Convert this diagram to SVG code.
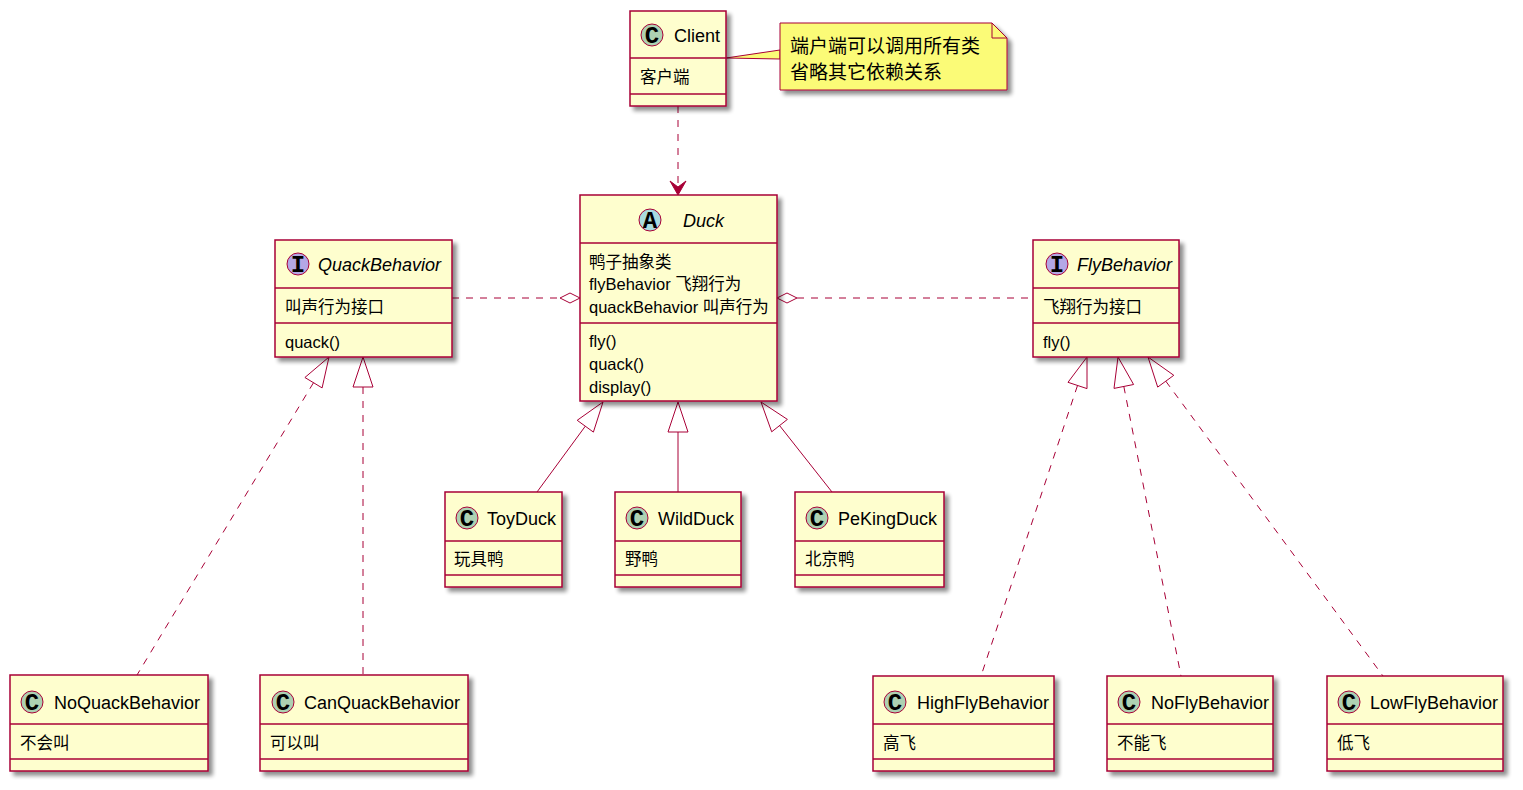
<svg xmlns="http://www.w3.org/2000/svg" width="1523" height="790" viewBox="0 0 1523 790">
<defs>
<filter id="sh" x="-10%" y="-10%" width="130%" height="130%">
<feGaussianBlur in="SourceAlpha" stdDeviation="2"/>
<feOffset dx="4" dy="4" result="b"/>
<feComponentTransfer><feFuncA type="linear" slope="0.45"/></feComponentTransfer>
<feMerge><feMergeNode/><feMergeNode in="SourceGraphic"/></feMerge>
</filter>
<style>
.box{fill:#FEFECE;stroke:#A80036;stroke-width:1.5;}
.sep{stroke:#A80036;stroke-width:1.5;}
.cc{fill:#ADD1B2;stroke:#A80036;stroke-width:1;}
.ca{fill:#A9DCDF;stroke:#A80036;stroke-width:1;}
.ci{fill:#B4A7E5;stroke:#A80036;stroke-width:1;}
.lt{font-family:"Liberation Mono",monospace;font-weight:bold;font-size:24px;fill:#000;text-anchor:middle;}
.nm{font-family:"Liberation Sans","Noto Sans CJK SC",sans-serif;font-size:18px;fill:#000;}
.it{font-style:italic;}
.at{font-family:"Liberation Sans","Noto Sans CJK SC",sans-serif;font-size:16.5px;fill:#000;}
.nt{font-family:"Liberation Sans","Noto Sans CJK SC",sans-serif;font-size:19px;fill:#000;}
.ln{stroke:#A80036;stroke-width:1;fill:none;}
.dl{stroke:#A80036;stroke-width:1;fill:none;stroke-dasharray:7,7;}
.hd{stroke:#A80036;stroke-width:1;fill:none;}
.fh{stroke:#A80036;stroke-width:1;fill:#A80036;}
</style>
</defs>
<rect width="1523" height="790" fill="#FFFFFF"/>

<g id="connectors">
<line class="dl" x1="678" y1="106" x2="678" y2="190"/>
<polygon class="fh" points="678,195 670,181 678,187 686,181"/>
<line class="dl" x1="452" y1="298" x2="560" y2="298"/>
<polygon class="hd" fill="#FFFFFF" points="580,298 570,293 560,298 570,303"/>
<line class="dl" x1="797" y1="298" x2="1033" y2="298"/>
<polygon class="hd" fill="#FFFFFF" points="777,298 787,293 797,298 787,303"/>
<line class="ln" x1="585.3" y1="426.2" x2="537" y2="492"/>
<polygon class="hd" points="603,402 593.4,432.1 577.2,420.3"/>
<line class="ln" x1="678" y1="432" x2="678" y2="492"/>
<polygon class="hd" points="678,402 688,432 668,432"/>
<line class="ln" x1="779.6" y1="425.6" x2="832" y2="492"/>
<polygon class="hd" points="761,402 787.4,419.4 771.7,431.8"/>
<line class="dl" x1="313.5" y1="382.7" x2="137" y2="675"/>
<polygon class="hd" points="329,357 322.1,387.9 304.9,377.5"/>
<line class="dl" x1="363" y1="387" x2="363" y2="675"/>
<polygon class="hd" points="363,357 373,387 353,387"/>
<line class="dl" x1="1077.5" y1="385.5" x2="981" y2="676"/>
<polygon class="hd" points="1087,357 1087,388.6 1068,382.3"/>
<line class="dl" x1="1123.8" y1="386.4" x2="1181" y2="676"/>
<polygon class="hd" points="1118,357 1133.6,384.5 1114,388.4"/>
<line class="dl" x1="1165.8" y1="381.2" x2="1383" y2="676"/>
<polygon class="hd" points="1148,357 1173.8,375.3 1157.7,387.1"/>
<polygon points="780,50 726,58 780,59" fill="#FBFB77" stroke="#A80036" stroke-width="1"/>
</g>

<g id="note">
<path d="M780,23 L992,23 L1007,38 L1007,90 L780,90 Z" fill="#FBFB77" stroke="#A80036" stroke-width="1" filter="url(#sh)"/>
<path d="M992,23 L992,38 L1007,38" fill="none" stroke="#A80036" stroke-width="1"/>
<text class="nt" x="790" y="53">端户端可以调用所有类</text>
<text class="nt" x="790" y="79">省略其它依赖关系</text>
</g>

<g id="Client">
<rect class="box" x="630" y="11" width="96" height="95" filter="url(#sh)"/>
<line class="sep" x1="630" y1="58" x2="726" y2="58"/>
<line class="sep" x1="630" y1="94" x2="726" y2="94"/>
<circle class="cc" cx="652" cy="35" r="11"/>
<text class="lt" x="652" y="43">C</text>
<text class="nm" x="674" y="42">Client</text>
<text class="at" x="640" y="83">客户端</text>
</g>

<g id="Duck">
<rect class="box" x="580" y="195" width="197" height="206" filter="url(#sh)"/>
<line class="sep" x1="580" y1="243" x2="777" y2="243"/>
<line class="sep" x1="580" y1="323" x2="777" y2="323"/>
<circle class="ca" cx="650" cy="220" r="11"/>
<text class="lt" x="650" y="228">A</text>
<text class="nm it" x="683" y="227">Duck</text>
<text class="at" x="589" y="268">鸭子抽象类</text>
<text class="at" x="589" y="290">flyBehavior 飞翔行为</text>
<text class="at" x="589" y="313">quackBehavior 叫声行为</text>
<text class="at" x="589" y="347">fly()</text>
<text class="at" x="589" y="370">quack()</text>
<text class="at" x="589" y="393">display()</text>
</g>

<g id="QuackBehavior">
<rect class="box" x="275" y="240" width="177" height="117" filter="url(#sh)"/>
<line class="sep" x1="275" y1="288" x2="452" y2="288"/>
<line class="sep" x1="275" y1="323" x2="452" y2="323"/>
<circle class="ci" cx="298" cy="264" r="11"/>
<text class="lt" x="298" y="272">I</text>
<text class="nm it" x="318" y="271">QuackBehavior</text>
<text class="at" x="285" y="313">叫声行为接口</text>
<text class="at" x="285" y="348">quack()</text>
</g>

<g id="FlyBehavior">
<rect class="box" x="1033" y="240" width="146" height="117" filter="url(#sh)"/>
<line class="sep" x1="1033" y1="288" x2="1179" y2="288"/>
<line class="sep" x1="1033" y1="323" x2="1179" y2="323"/>
<circle class="ci" cx="1057" cy="264" r="11"/>
<text class="lt" x="1057" y="272">I</text>
<text class="nm it" x="1077" y="271">FlyBehavior</text>
<text class="at" x="1043" y="313">飞翔行为接口</text>
<text class="at" x="1043" y="348">fly()</text>
</g>

<g id="ToyDuck">
<rect class="box" x="445" y="492" width="117" height="95" filter="url(#sh)"/>
<line class="sep" x1="445" y1="541" x2="562" y2="541"/>
<line class="sep" x1="445" y1="575" x2="562" y2="575"/>
<circle class="cc" cx="467" cy="518" r="11"/>
<text class="lt" x="467" y="526">C</text>
<text class="nm" x="487" y="525">ToyDuck</text>
<text class="at" x="454" y="565">玩具鸭</text>
</g>

<g id="WildDuck">
<rect class="box" x="615" y="492" width="126" height="95" filter="url(#sh)"/>
<line class="sep" x1="615" y1="541" x2="741" y2="541"/>
<line class="sep" x1="615" y1="575" x2="741" y2="575"/>
<circle class="cc" cx="637" cy="518" r="11"/>
<text class="lt" x="637" y="526">C</text>
<text class="nm" x="658" y="525">WildDuck</text>
<text class="at" x="625" y="565">野鸭</text>
</g>

<g id="PeKingDuck">
<rect class="box" x="795" y="492" width="149" height="95" filter="url(#sh)"/>
<line class="sep" x1="795" y1="541" x2="944" y2="541"/>
<line class="sep" x1="795" y1="575" x2="944" y2="575"/>
<circle class="cc" cx="817" cy="518" r="11"/>
<text class="lt" x="817" y="526">C</text>
<text class="nm" x="838" y="525">PeKingDuck</text>
<text class="at" x="805" y="565">北京鸭</text>
</g>

<g id="NoQuackBehavior">
<rect class="box" x="10" y="675" width="198" height="96" filter="url(#sh)"/>
<line class="sep" x1="10" y1="724" x2="208" y2="724"/>
<line class="sep" x1="10" y1="759" x2="208" y2="759"/>
<circle class="cc" cx="32" cy="702" r="11"/>
<text class="lt" x="32" y="710">C</text>
<text class="nm" x="54" y="709">NoQuackBehavior</text>
<text class="at" x="20" y="749">不会叫</text>
</g>

<g id="CanQuackBehavior">
<rect class="box" x="260" y="675" width="208" height="96" filter="url(#sh)"/>
<line class="sep" x1="260" y1="724" x2="468" y2="724"/>
<line class="sep" x1="260" y1="759" x2="468" y2="759"/>
<circle class="cc" cx="283" cy="702" r="11"/>
<text class="lt" x="283" y="710">C</text>
<text class="nm" x="304" y="709">CanQuackBehavior</text>
<text class="at" x="270" y="749">可以叫</text>
</g>

<g id="HighFlyBehavior">
<rect class="box" x="873" y="676" width="181" height="95" filter="url(#sh)"/>
<line class="sep" x1="873" y1="724" x2="1054" y2="724"/>
<line class="sep" x1="873" y1="759" x2="1054" y2="759"/>
<circle class="cc" cx="895" cy="702" r="11"/>
<text class="lt" x="895" y="710">C</text>
<text class="nm" x="917" y="709">HighFlyBehavior</text>
<text class="at" x="883" y="749">高飞</text>
</g>

<g id="NoFlyBehavior">
<rect class="box" x="1107" y="676" width="166" height="95" filter="url(#sh)"/>
<line class="sep" x1="1107" y1="724" x2="1273" y2="724"/>
<line class="sep" x1="1107" y1="759" x2="1273" y2="759"/>
<circle class="cc" cx="1129" cy="702" r="11"/>
<text class="lt" x="1129" y="710">C</text>
<text class="nm" x="1151" y="709">NoFlyBehavior</text>
<text class="at" x="1117" y="749">不能飞</text>
</g>

<g id="LowFlyBehavior">
<rect class="box" x="1327" y="676" width="176" height="95" filter="url(#sh)"/>
<line class="sep" x1="1327" y1="724" x2="1503" y2="724"/>
<line class="sep" x1="1327" y1="759" x2="1503" y2="759"/>
<circle class="cc" cx="1349" cy="702" r="11"/>
<text class="lt" x="1349" y="710">C</text>
<text class="nm" x="1370" y="709">LowFlyBehavior</text>
<text class="at" x="1337" y="749">低飞</text>
</g>
</svg>
